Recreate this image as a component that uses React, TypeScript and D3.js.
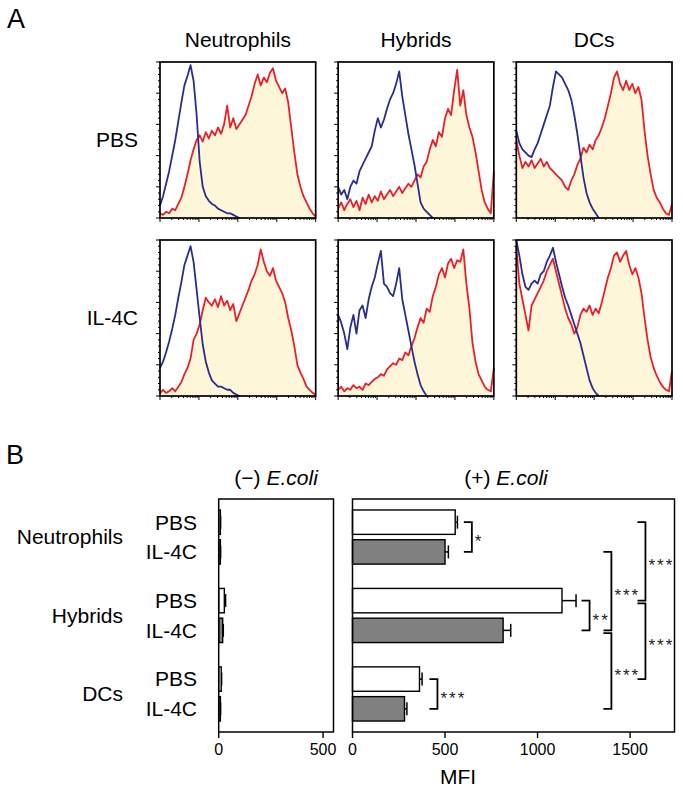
import React from 'react';
import * as d3 from 'd3';

const cellTypes = ['Neutrophils', 'Hybrids', 'DCs'];
const treatments = ['PBS', 'IL-4C'];

// Panel A: flow histograms, % of max, 52 bins across the 4-decade log axis
const BINS = 52;
const neutPbsBlue = [8, 14, 22, 30, 40, 50, 62, 74, 85, 91, 98, 88, 66, 36, 20, 14, 11, 9, 8, 6, 5, 4, 3, 3, 2, 1, 0];
const neutPbsRed = [3, 2, 4, 3, 6, 5, 9, 13, 20, 28, 37, 44, 50, 53, 49, 55, 51, 56, 53, 58, 54, 60, 72, 58, 64, 57, 60, 63, 66, 72, 78, 86, 92, 85, 90, 87, 93, 96, 88, 84, 80, 83, 74, 58, 42, 28, 20, 14, 10, 6, 3, 1];
const neutIl4Blue = [18, 22, 28, 35, 43, 52, 63, 73, 84, 90, 96, 86, 68, 50, 33, 22, 15, 10, 8, 6, 6, 5, 4, 4, 2, 1, 0];
const neutIl4Red = [2, 4, 2, 3, 5, 3, 6, 9, 14, 18, 24, 36, 40, 46, 55, 63, 60, 58, 62, 57, 64, 58, 61, 55, 59, 48, 53, 58, 63, 68, 74, 78, 84, 94, 86, 80, 77, 82, 74, 70, 66, 60, 50, 42, 32, 20, 15, 11, 6, 4, 2, 1];
const hybPbsBlue = [20, 15, 18, 12, 20, 24, 22, 30, 34, 38, 42, 46, 56, 64, 58, 63, 70, 76, 80, 86, 94, 78, 66, 54, 44, 34, 22, 10, 6, 4, 2, 0];
const hybPbsRed = [6, 10, 5, 9, 12, 7, 11, 5, 13, 9, 15, 10, 14, 11, 17, 12, 15, 18, 14, 17, 20, 16, 19, 22, 20, 24, 28, 26, 33, 36, 44, 50, 46, 55, 52, 64, 70, 66, 82, 95, 72, 82, 66, 58, 52, 42, 30, 18, 10, 6, 3, 30];
const hybIl4Blue = [52, 47, 40, 30, 44, 52, 40, 55, 58, 50, 62, 70, 76, 85, 93, 72, 70, 66, 64, 72, 82, 62, 52, 42, 32, 22, 14, 7, 3, 0];
const hybIl4Red = [4, 6, 3, 5, 4, 7, 5, 6, 4, 8, 7, 9, 11, 12, 14, 13, 17, 19, 21, 20, 24, 23, 28, 26, 32, 37, 44, 50, 47, 56, 54, 64, 70, 78, 82, 76, 85, 88, 82, 87, 86, 94, 72, 56, 34, 22, 14, 10, 6, 4, 3, 18];
const dcPbsBlue = [56, 48, 44, 42, 40, 39, 44, 48, 54, 60, 66, 72, 84, 94, 92, 90, 86, 82, 76, 66, 54, 40, 26, 16, 10, 6, 3, 0];
const dcPbsRed = [50, 40, 32, 36, 33, 37, 32, 35, 38, 33, 36, 32, 30, 28, 26, 24, 20, 18, 24, 28, 34, 38, 45, 42, 47, 44, 50, 53, 58, 64, 72, 80, 90, 94, 86, 82, 88, 82, 86, 80, 84, 76, 56, 40, 28, 18, 13, 10, 6, 3, 2, 9];
const dcIl4Blue = [100, 90, 78, 70, 68, 72, 74, 72, 78, 80, 86, 90, 95, 86, 78, 70, 63, 58, 52, 46, 40, 34, 26, 18, 10, 5, 2, 0];
const dcIl4Red = [96, 72, 62, 52, 42, 58, 62, 66, 70, 74, 80, 84, 88, 80, 72, 64, 56, 50, 46, 40, 44, 52, 56, 54, 58, 52, 56, 53, 60, 68, 76, 82, 90, 92, 86, 90, 93, 84, 78, 82, 76, 66, 50, 36, 25, 18, 13, 9, 6, 4, 3, 16];

const histBlue: Record<string, Record<string, number[]>> = {
  Neutrophils: { PBS: neutPbsBlue, 'IL-4C': neutIl4Blue },
  Hybrids: { PBS: hybPbsBlue, 'IL-4C': hybIl4Blue },
  DCs: { PBS: dcPbsBlue, 'IL-4C': dcIl4Blue },
};
const histRed: Record<string, Record<string, number[]>> = {
  Neutrophils: { PBS: neutPbsRed, 'IL-4C': neutIl4Red },
  Hybrids: { PBS: hybPbsRed, 'IL-4C': hybIl4Red },
  DCs: { PBS: dcPbsRed, 'IL-4C': dcIl4Red },
};

// Panel B: MFI, order Neut PBS, Neut IL-4C, Hyb PBS, Hyb IL-4C, DC PBS, DC IL-4C
const mfiNoEcoli = [8, 8, 27, 19, 12, 8];
const errNoEcoli = [1, 1, 6, 3, 2, 1];
const mfiEcoli = [555, 500, 1132, 814, 362, 281];
const errEcoli = [12, 18, 76, 41, 14, 13];
const ticksNoEcoli = [0, 500];
const ticksEcoli = [0, 500, 1000, 1500];

// significance brackets: from/to = bar index, x in MFI units
const brackets = [
  { from: 0, to: 1, x: 645, label: '*' },
  { from: 2, to: 3, x: 1281, label: '**' },
  { from: 4, to: 5, x: 459, label: '***' },
  { from: 1, to: 3, x: 1399, label: '***' },
  { from: 3, to: 5, x: 1399, label: '***' },
  { from: 0, to: 2, x: 1583, label: '***' },
  { from: 2, to: 4, x: 1583, label: '***' },
];

const FONT = '"Liberation Sans", Arial, Helvetica, sans-serif';
const BLUE = '#2a2d8c';
const RED = '#e8202a';
const FILL = '#fdf6d8';

export default function App() {
  const W = 683;
  const H = 790;

  // ---------- Panel A ----------
  const colBand = d3.scaleBand<string>().domain(cellTypes).range([160, 672]).paddingInner(0.126);
  const rowBand = d3.scaleBand<string>().domain(treatments).range([62, 396]).paddingInner(0.1236);

  const panelsA: React.ReactNode[] = [];
  cellTypes.forEach((c) => {
    treatments.forEach((t) => {
      const x0 = colBand(c)!;
      const w = colBand.bandwidth();
      const y0 = rowBand(t)!;
      const h = rowBand.bandwidth();
      const xs = d3.scaleLinear().domain([0, BINS - 1]).range([x0, x0 + w]);
      const ys = d3.scaleLinear().domain([0, 100]).range([y0 + h, y0]);
      const area = d3.area<number>().x((_, i) => xs(i)).y0(ys(0)).y1((d) => ys(d));
      const line = d3.line<number>().x((_, i) => xs(i)).y((d) => ys(d));
      const logX = d3.scaleLog().domain([1, 1e4]).range([x0, x0 + w]);
      const xt = logX.ticks();
      const yt = d3.range(0, 101, 4);
      const red = histRed[c][t];
      const blue = histBlue[c][t];
      panelsA.push(
        <g key={c + t}>
          <path d={area(red)!} fill={FILL} />
          <path d={line(red)!} fill="none" stroke={RED} strokeWidth={1.8} strokeLinejoin="round" />
          <path d={line(blue)!} fill="none" stroke={BLUE} strokeWidth={1.8} strokeLinejoin="round" />
          {xt.map((v, i) => {
            const lg = Math.log10(v);
            const major = Math.abs(lg - Math.round(lg)) < 1e-9;
            return (
              <line key={'x' + i} x1={logX(v)} x2={logX(v)} y1={y0 + h} y2={y0 + h + (major ? 4 : 2)} stroke="#000" strokeWidth={1} />
            );
          })}
          {yt.map((v, i) => (
            <line key={'y' + i} x1={x0} x2={x0 - (v % 20 === 0 ? 4 : 2)} y1={ys(v)} y2={ys(v)} stroke="#000" strokeWidth={1} />
          ))}
          <rect x={x0} y={y0} width={w} height={h} fill="none" stroke="#000" strokeWidth={1.7} />
        </g>
      );
    });
  });

  // ---------- Panel B ----------
  const top = 499;
  const bottom = 732;
  const gBand = d3.scaleBand<string>().domain(cellTypes).range([top, bottom]).paddingInner(0.31).paddingOuter(0.14);
  const tBand = d3.scaleBand<string>().domain(treatments).range([0, gBand.bandwidth()]).paddingInner(0.18);
  const xLeft = d3.scaleLinear().domain([0, 550]).range([218.7, 333.5]);
  const xRight = d3.scaleLinear().domain([0, 1740]).range([352.5, 674.5]);

  const barY = (k: number) => gBand(cellTypes[Math.floor(k / 2)])! + tBand(treatments[k % 2])!;
  const barH = tBand.bandwidth();
  const barC = (k: number) => barY(k) + barH / 2;

  const drawBars = (vals: number[], errs: number[], xs: d3.ScaleLinear<number, number>, key: string) =>
    vals.map((v, k) => {
      const yc = barC(k);
      const xe = xs(v + errs[k]);
      return (
        <g key={key + k}>
          <line x1={xs(v)} x2={xe} y1={yc} y2={yc} stroke="#000" strokeWidth={1.5} />
          <line x1={xe} x2={xe} y1={yc - 6.5} y2={yc + 6.5} stroke="#000" strokeWidth={1.5} />
          <rect
            x={xs(0)}
            y={barY(k)}
            width={xs(v) - xs(0)}
            height={barH}
            fill={k % 2 === 0 ? '#ffffff' : '#808080'}
            stroke="#000"
            strokeWidth={1.4}
          />
        </g>
      );
    });

  const drawAxis = (xs: d3.ScaleLinear<number, number>, ticks: number[], key: string) =>
    ticks.map((v) => (
      <g key={key + v}>
        <line x1={xs(v)} x2={xs(v)} y1={bottom} y2={bottom + 6} stroke="#000" strokeWidth={1.4} />
        <text x={xs(v)} y={755} textAnchor="middle" fontSize={16} fontFamily={FONT}>
          {v}
        </text>
      </g>
    ));

  const bracketEls = brackets.map((b, i) => {
    const shared = brackets.some((o, j) => j !== i && o.x === b.x && o.to === b.from);
    const yA = barC(b.from) + (shared ? 2.8 : 0);
    const yB = barC(b.to);
    const x = xRight(b.x);
    return (
      <g key={'br' + i}>
        <path d={`M${x - 8},${yA}H${x}V${yB}H${x - 8}`} fill="none" stroke="#000" strokeWidth={1.8} />
        <text x={x + 3} y={(yA + yB) / 2 + 10} fontSize={17} fontFamily={FONT} letterSpacing={2} fill="#222">
          {b.label}
        </text>
      </g>
    );
  });

  return (
    <svg width={W} height={H} viewBox={`0 0 ${W} ${H}`} style={{ position: 'absolute', left: 0, top: 0, background: '#fff' }} fontFamily={FONT}>
      <rect x={0} y={0} width={W} height={H} fill="#fff" />
      {/* Panel A */}
      <text x={7} y={28} fontSize={27}>A</text>
      {cellTypes.map((c) => (
        <text key={'ct' + c} x={colBand(c)! + colBand.bandwidth() / 2} y={47} textAnchor="middle" fontSize={21}>
          {c}
        </text>
      ))}
      {treatments.map((t) => (
        <text key={'rt' + t} x={138} y={rowBand(t)! + rowBand.bandwidth() / 2} dy="0.35em" textAnchor="end" fontSize={21}>
          {t}
        </text>
      ))}
      {panelsA}

      {/* Panel B */}
      <text x={6} y={464} fontSize={27}>B</text>
      <text x={(xLeft.range()[0] + xLeft.range()[1]) / 2} y={485} textAnchor="middle" fontSize={21}>
        (−) <tspan fontStyle="italic">E.coli</tspan>
      </text>
      <text x={506} y={485} textAnchor="middle" fontSize={21}>
        (+) <tspan fontStyle="italic">E.coli</tspan>
      </text>
      {cellTypes.map((c) => (
        <text key={'gl' + c} x={123} y={gBand(c)! + gBand.bandwidth() / 2} dy="0.35em" textAnchor="end" fontSize={21}>
          {c}
        </text>
      ))}
      {d3.range(6).map((k) => (
        <text key={'tl' + k} x={197} y={barC(k)} dy="0.35em" textAnchor="end" fontSize={21}>
          {treatments[k % 2]}
        </text>
      ))}
      {drawBars(mfiNoEcoli, errNoEcoli, xLeft, 'l')}
      {drawBars(mfiEcoli, errEcoli, xRight, 'r')}
      <rect x={xLeft.range()[0]} y={top} width={xLeft.range()[1] - xLeft.range()[0]} height={bottom - top} fill="none" stroke="#000" strokeWidth={1.5} />
      <rect x={xRight.range()[0]} y={top} width={xRight.range()[1] - xRight.range()[0]} height={bottom - top} fill="none" stroke="#000" strokeWidth={1.5} />
      {drawAxis(xLeft, ticksNoEcoli, 'al')}
      {drawAxis(xRight, ticksEcoli, 'ar')}
      {bracketEls}
      <text x={458} y={784} textAnchor="middle" fontSize={21}>MFI</text>
    </svg>
  );
}
